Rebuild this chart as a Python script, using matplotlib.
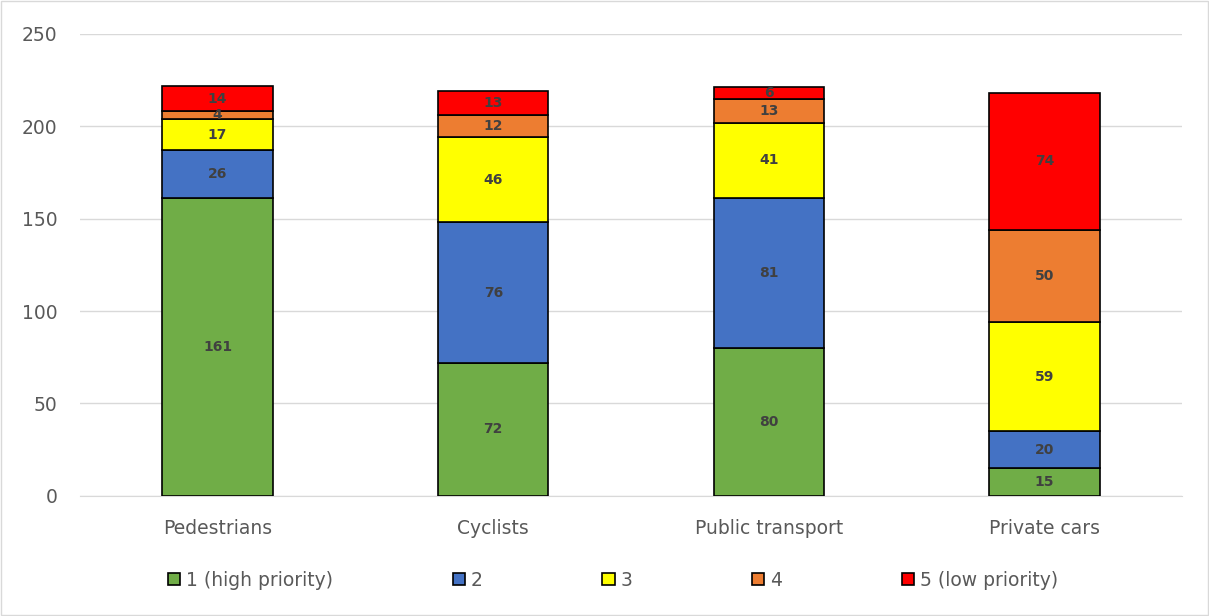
import numpy as np
import matplotlib.pyplot as plt

plt.rcParams['font.family'] = ['DejaVu Sans']

categories = ['Pedestrians', 'Cyclists', 'Public transport', 'Private cars']
series_names = ['1 (high priority)', '2', '3', '4', '5 (low priority)']
p1 = [161, 72, 80, 15]
p2 = [26, 76, 81, 20]
p3 = [17, 46, 41, 59]
p4 = [4, 12, 13, 50]
p5 = [14, 13, 6, 74]
colors = ['#70ad47', '#4472c4', '#ffff00', '#ed7d31', '#ff0000']

fig = plt.figure(figsize=(12.09, 6.16), dpi=100)
ax = fig.add_axes([0.066, 0.195, 0.912, 0.75])

x = np.arange(len(categories))
bottom = np.zeros(len(categories))
for name, vals, col in zip(series_names, [p1, p2, p3, p4, p5], colors):
    vals = np.array(vals)
    bars = ax.bar(x, vals, 0.4, bottom=bottom, color=col, edgecolor='black',
                  linewidth=1.2, label=name, zorder=3)
    for b, v, b0 in zip(bars, vals, bottom):
        ax.text(b.get_x() + b.get_width() / 2, b0 + v / 2, str(v),
                ha='center', va='center', fontsize=10, fontweight='bold',
                color='#404040', zorder=4)
    bottom += vals

ax.set_xlim(-0.5, 3.5)
ax.set_ylim(0, 250)
ax.set_yticks(range(0, 251, 50))
ax.set_xticks(x)
ax.set_xticklabels(categories)
ax.tick_params(axis='both', length=0, labelsize=13.5, colors='#595959')
ax.tick_params(axis='y', pad=16)
ax.tick_params(axis='x', pad=17)
ax.yaxis.grid(True, color='#d9d9d9', linewidth=1, zorder=0)
for s in ['top', 'right', 'left']:
    ax.spines[s].set_visible(False)
ax.spines['bottom'].set_color('#d9d9d9')

leg = fig.legend(loc='center', bbox_to_anchor=(0.507, 0.058), ncol=5, frameon=False,
                 fontsize=13.5, handlelength=0.65, handleheight=0.65,
                 columnspacing=6.4, handletextpad=0.3)
for t in leg.get_texts():
    t.set_color('#595959')

fig.patches.append(plt.Rectangle((0.001, 0.001), 0.998, 0.997, transform=fig.transFigure,
                                 fill=False, edgecolor='#d9d9d9', linewidth=1))

fig.savefig('out.png', dpi=100)
